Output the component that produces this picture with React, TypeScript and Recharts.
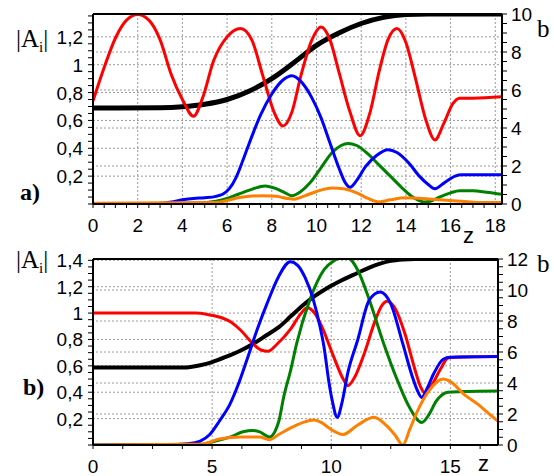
import React from 'react';
import { LineChart, Line, XAxis, YAxis, ReferenceLine } from 'recharts';

type P = [number, number];

// ---------- Panel a) data  (z, value) ----------
const redA: P[] = [[0,0.74],[0.5,0.98],[1,1.19],[1.5,1.32],[2,1.36],[2.5,1.32],[3,1.18],[3.5,0.93],[4,0.75],[4.5,0.63],[4.9,0.76],[5.4,1.03],[6,1.2],[6.6,1.26],[7.1,1.18],[7.6,0.92],[8.1,0.66],[8.5,0.56],[8.9,0.66],[9.3,0.92],[9.8,1.18],[10.2,1.27],[10.6,1.18],[11,0.95],[11.5,0.66],[11.95,0.49],[12.4,0.66],[12.8,0.95],[13.2,1.18],[13.6,1.26],[14,1.16],[14.4,0.92],[14.9,0.6],[15.3,0.46],[15.7,0.58],[16.1,0.72],[16.4,0.76],[17,0.76],[18.3,0.77]];
const blueA: P[] = [[0,0],[2.8,0.002],[3.5,0.015],[4,0.03],[4.5,0.04],[5,0.045],[5.5,0.055],[5.8,0.07],[6.1,0.11],[6.4,0.19],[6.7,0.31],[7,0.44],[7.5,0.64],[8,0.79],[8.5,0.89],[8.9,0.92],[9.3,0.88],[9.8,0.76],[10.2,0.62],[10.6,0.44],[11,0.26],[11.3,0.15],[11.5,0.12],[11.8,0.17],[12.2,0.27],[12.7,0.35],[13.2,0.39],[13.6,0.37],[14.1,0.3],[14.6,0.2],[15,0.14],[15.3,0.11],[15.7,0.15],[16.2,0.2],[16.5,0.21],[18.3,0.21]];
const greenA: P[] = [[0,0],[4.5,0.005],[5.5,0.02],[6,0.04],[6.5,0.07],[7,0.1],[7.7,0.13],[8.2,0.11],[8.6,0.08],[8.9,0.06],[9.3,0.09],[9.7,0.15],[10.2,0.26],[10.7,0.37],[11.1,0.42],[11.4,0.435],[11.8,0.42],[12.3,0.36],[12.8,0.28],[13.3,0.2],[13.8,0.12],[14.3,0.05],[14.8,0.015],[15.1,0.02],[15.5,0.05],[16,0.08],[16.4,0.095],[17,0.095],[17.6,0.085],[18.3,0.07]];
const orangeA: P[] = [[0,0.005],[5.5,0.01],[6,0.025],[6.5,0.045],[7,0.055],[7.6,0.06],[8.2,0.055],[8.7,0.04],[9,0.035],[9.5,0.06],[10,0.09],[10.7,0.115],[11.2,0.11],[11.8,0.08],[12.3,0.04],[12.8,0.015],[13.3,0.03],[14,0.045],[14.7,0.04],[15.5,0.03],[16.5,0.02],[17.2,0.01],[18.3,0.01]];
const blackA: P[] = [[0,5.05],[3,5.07],[4,5.12],[5,5.25],[6,5.5],[7,5.95],[8,6.6],[9,7.45],[10,8.35],[11,9.0],[12,9.5],[13,9.82],[14,9.97],[15,10],[18.3,10]];

// ---------- Panel b) data ----------
const redB: P[] = [[0,1],[4.3,1],[4.8,0.99],[5.3,0.97],[5.8,0.93],[6.2,0.87],[6.7,0.77],[7.05,0.72],[7.35,0.71],[7.7,0.76],[8.3,0.88],[8.7,0.99],[9.0,1.04],[9.3,1.0],[9.6,0.9],[10.1,0.67],[10.5,0.5],[10.7,0.45],[11.0,0.52],[11.4,0.7],[11.8,0.92],[12.1,1.05],[12.35,1.09],[12.7,1.03],[13.1,0.84],[13.5,0.58],[13.75,0.44],[13.9,0.4],[14.2,0.45],[14.6,0.58],[14.9,0.66],[15.2,0.665],[17,0.67]];
const blueB: P[] = [[0,0],[3,0.002],[4,0.01],[4.5,0.03],[4.9,0.08],[5.3,0.18],[5.75,0.31],[6.1,0.46],[6.45,0.64],[6.9,0.88],[7.3,1.07],[7.8,1.28],[8.28,1.39],[8.6,1.36],[8.9,1.27],[9.25,1.1],[9.5,0.92],[9.7,0.74],[9.9,0.48],[10.05,0.33],[10.25,0.21],[10.45,0.32],[10.7,0.55],[11.1,0.79],[11.6,1.1],[12.05,1.16],[12.5,1.07],[13.0,0.77],[13.4,0.52],[13.6,0.42],[13.8,0.36],[14.0,0.42],[14.3,0.54],[14.7,0.65],[15,0.665],[17,0.67]];
const greenB: P[] = [[0,0],[4.5,0.005],[4.9,0.02],[5.75,0.06],[6.3,0.1],[6.7,0.11],[7.0,0.1],[7.4,0.06],[7.8,0.18],[8.0,0.36],[8.3,0.57],[8.55,0.77],[9.1,1.1],[9.7,1.33],[10.15,1.4],[10.5,1.43],[10.85,1.4],[11.1,1.33],[11.6,1.1],[12.2,0.77],[12.8,0.48],[13.3,0.28],[13.8,0.17],[14.1,0.23],[14.4,0.33],[14.9,0.4],[15.5,0.405],[17,0.41]];
const orangeB: P[] = [[0,0],[4.5,0.005],[5.3,0.045],[6.2,0.06],[7.0,0.06],[7.4,0.04],[7.8,0.08],[8.3,0.13],[8.8,0.17],[9.25,0.19],[9.6,0.17],[9.9,0.13],[10.5,0.08],[11.1,0.15],[11.8,0.21],[12.3,0.15],[12.7,0.07],[13.0,0.0],[13.3,0.12],[13.6,0.25],[14.1,0.41],[14.7,0.5],[15.0,0.48],[15.6,0.38],[16.15,0.31],[16.6,0.24],[17,0.18]];
const blackB: P[] = [[0,5.0],[3.8,5.0],[4.5,5.15],[5,5.35],[5.6,5.7],[6.2,6.1],[6.8,6.6],[7.3,7.1],[7.8,7.6],[8.3,8.3],[8.8,9.0],[9.3,9.6],[9.8,10.1],[10.4,10.6],[11.1,11.1],[11.6,11.45],[12.05,11.7],[12.5,11.88],[13,11.97],[13.5,12],[17,12]];

// ---------- Axes / ticks ----------
const xDomainA: [number, number] = [0, 18.3];
const xMajorA = [0, 2, 4, 6, 8, 10, 12, 14, 16, 18];
const xLabelsA = ['0', '2', '4', '6', '8', '10', '12', '14', '16', '18'];
const leftDomainA: [number, number] = [0, 1.364];
const leftMajorA = [0.2, 0.4, 0.6, 0.8, 1, 1.2];
const leftLabelsA = ['0,2', '0,4', '0,6', '0,8', '1', '1,2'];
const rightDomainA: [number, number] = [0, 10];
const rightMajorA = [0, 2, 4, 6, 8, 10];
const rightLabelsA = ['0', '2', '4', '6', '8', '10'];

const xDomainB: [number, number] = [0, 17];
const xMajorB = [0, 5, 10, 15];
const xLabelsB = ['0', '5', '10', '15'];
const leftDomainB: [number, number] = [0, 1.41];
const leftMajorB = [0.2, 0.4, 0.6, 0.8, 1, 1.2, 1.4];
const leftLabelsB = ['0,2', '0,4', '0,6', '0,8', '1', '1,2', '1,4'];
const rightDomainB: [number, number] = [0, 12];
const rightMajorB = [0, 2, 4, 6, 8, 10, 12];
const rightLabelsB = ['0', '2', '4', '6', '8', '10', '12'];

const FONT = '"Liberation Sans", Arial, sans-serif';
const SERIF = '"Liberation Serif", "Times New Roman", serif';
const GRID = '#9a9a9a';

const toData = (pts: P[]) => pts.map(([z, v]) => ({ z, v }));

function minorTicks(domain: [number, number], step: number): number[] {
  const out: number[] = [];
  const n = Math.floor((domain[1] - domain[0]) / step + 1e-6);
  for (let i = 0; i <= n; i++) out.push(+(domain[0] + i * step).toFixed(4));
  return out;
}

const findIdx = (arr: number[], v: number) => arr.findIndex((m) => Math.abs(m - v) < 1e-6);

const xTick = (majors: number[], labels: string[]) => (p: any) => {
  const i = findIdx(majors, p.payload.value);
  return (
    <g>
      <line x1={p.x} x2={p.x} y1={p.y} y2={p.y + 4} stroke="#000" strokeWidth={1} />
      {i >= 0 && (
        <text x={p.x} y={p.y + 28} textAnchor="middle" fontSize={19} fontFamily={FONT} fill="#000">
          {labels[i]}
        </text>
      )}
    </g>
  );
};

const yTick = (majors: number[], labels: string[], side: 'left' | 'right') => (p: any) => {
  const i = findIdx(majors, p.payload.value);
  const d = side === 'left' ? -1 : 1;
  return (
    <g>
      <line x1={p.x} x2={p.x + d * 5} y1={p.y} y2={p.y} stroke="#000" strokeWidth={1} />
      {i >= 0 && (
        <text
          x={side === 'left' ? p.x - 10 : p.x + 9}
          y={p.y + 7}
          textAnchor={side === 'left' ? 'end' : 'start'}
          fontSize={19}
          fontFamily={FONT}
          fill="#000"
        >
          {labels[i]}
        </text>
      )}
    </g>
  );
};

interface PanelProps {
  top: number;
  height: number;
  marginTop: number;
  xAxisHeight: number;
  rightWidth: number;
  xDomain: [number, number];
  xMajor: number[];
  xLabels: string[];
  xMinorStep: number;
  xGrid: number[];
  leftDomain: [number, number];
  leftMajor: number[];
  leftLabels: string[];
  rightDomain: [number, number];
  rightMajor: number[];
  rightLabels: string[];
  red: P[];
  blue: P[];
  green: P[];
  orange: P[];
  black: P[];
  blackWidth: number;
}

function Panel(pp: PanelProps) {
  const common = { type: 'monotone' as const, dot: false, isAnimationActive: false, dataKey: 'v', activeDot: false };
  return (
    <div style={{ position: 'absolute', left: 0, top: pp.top }}>
      <LineChart width={554} height={pp.height} margin={{ top: pp.marginTop, right: 0, bottom: 0, left: 0 }}>
        <XAxis
          xAxisId="x"
          dataKey="z"
          type="number"
          domain={pp.xDomain}
          allowDataOverflow
          ticks={minorTicks(pp.xDomain, pp.xMinorStep)}
          interval={0}
          tickSize={0}
          tickMargin={0}
          tickLine={false}
          height={pp.xAxisHeight}
          axisLine={{ stroke: '#000', strokeWidth: 2 }}
          tick={xTick(pp.xMajor, pp.xLabels)}
        />
        <YAxis
          yAxisId="left"
          type="number"
          domain={pp.leftDomain}
          allowDataOverflow
          ticks={minorTicks(pp.leftDomain, 0.05)}
          interval={0}
          width={93}
          tickSize={0}
          tickMargin={0}
          tickLine={false}
          axisLine={{ stroke: '#000', strokeWidth: 2 }}
          tick={yTick(pp.leftMajor, pp.leftLabels, 'left')}
        />
        <YAxis
          yAxisId="right"
          orientation="right"
          type="number"
          domain={pp.rightDomain}
          allowDataOverflow
          ticks={minorTicks(pp.rightDomain, 0.5)}
          interval={0}
          width={pp.rightWidth}
          tickSize={0}
          tickMargin={0}
          tickLine={false}
          axisLine={{ stroke: '#000', strokeWidth: 2 }}
          tick={yTick(pp.rightMajor, pp.rightLabels, 'right')}
        />
        {pp.xGrid.map((v) => (
          <ReferenceLine key={'gx' + v} xAxisId="x" yAxisId="left" x={v} stroke={GRID} strokeDasharray="2 2" strokeWidth={1} />
        ))}
        {pp.leftMajor.map((v) => (
          <ReferenceLine key={'gl' + v} xAxisId="x" yAxisId="left" y={v} stroke={GRID} strokeDasharray="2 2" strokeWidth={1} />
        ))}
        {pp.rightMajor.filter((v) => v > pp.rightDomain[0] && v < pp.rightDomain[1]).map((v) => (
          <ReferenceLine key={'gr' + v} xAxisId="x" yAxisId="right" y={v} stroke={GRID} strokeDasharray="2 2" strokeWidth={1} />
        ))}
        <Line {...common} xAxisId="x" yAxisId="right" data={toData(pp.black)} stroke="#000" strokeWidth={pp.blackWidth} />
        <Line {...common} xAxisId="x" yAxisId="left" data={toData(pp.red)} stroke="#ff0000" strokeWidth={3} />
        <Line {...common} xAxisId="x" yAxisId="left" data={toData(pp.green)} stroke="#008000" strokeWidth={3} />
        <Line {...common} xAxisId="x" yAxisId="left" data={toData(pp.blue)} stroke="#0000ff" strokeWidth={3} />
        <Line {...common} xAxisId="x" yAxisId="left" data={toData(pp.orange)} stroke="#ff8000" strokeWidth={3} />
        <ReferenceLine xAxisId="x" yAxisId="right" y={pp.rightDomain[1]} stroke="#000" strokeWidth={2} />
      </LineChart>
    </div>
  );
}

export default function App() {
  return (
    <div style={{ position: 'absolute', left: 0, top: 0, width: 554, height: 476, background: '#fff', overflow: 'hidden' }}>
      <Panel
        top={0}
        height={240}
        marginTop={14}
        xAxisHeight={36}
        rightWidth={52}
        xDomain={xDomainA}
        xMajor={xMajorA}
        xLabels={xLabelsA}
        xMinorStep={0.5}
        xGrid={xMajorA.filter((v) => v > 0)}
        leftDomain={leftDomainA}
        leftMajor={leftMajorA}
        leftLabels={leftLabelsA}
        rightDomain={rightDomainA}
        rightMajor={rightMajorA}
        rightLabels={rightLabelsA}
        red={redA}
        blue={blueA}
        green={greenA}
        orange={orangeA}
        black={blackA}
        blackWidth={5}
      />
      <Panel
        top={240}
        height={236}
        marginTop={19}
        xAxisHeight={31}
        rightWidth={56}
        xDomain={xDomainB}
        xMajor={xMajorB}
        xLabels={xLabelsB}
        xMinorStep={1.25}
        xGrid={xMajorB.filter((v) => v > 0)}
        leftDomain={leftDomainB}
        leftMajor={leftMajorB}
        leftLabels={leftLabelsB}
        rightDomain={rightDomainB}
        rightMajor={rightMajorB}
        rightLabels={rightLabelsB}
        red={redB}
        blue={blueB}
        green={greenB}
        orange={orangeB}
        black={blackB}
        blackWidth={4}
      />
      <svg width={554} height={476} style={{ position: 'absolute', left: 0, top: 0, pointerEvents: 'none' }}>
        <text x={16} y={47} fontFamily={SERIF} fontSize={25} fill="#000">
          |A<tspan fontSize={15} dy={5}>i</tspan><tspan dy={-5}>|</tspan>
        </text>
        <text x={16} y={268} fontFamily={SERIF} fontSize={25} fill="#000">
          |A<tspan fontSize={15} dy={5}>i</tspan><tspan dy={-5}>|</tspan>
        </text>
        <text x={20} y={200} fontFamily={SERIF} fontSize={24} fontWeight="bold" fill="#000">a)</text>
        <text x={23} y={395} fontFamily={SERIF} fontSize={24} fontWeight="bold" fill="#000">b)</text>
        <text x={537} y={37} fontFamily={SERIF} fontSize={25} fill="#000">b</text>
        <text x={537} y={272} fontFamily={SERIF} fontSize={25} fill="#000">b</text>
        <text x={463} y={243} fontFamily={FONT} fontSize={22} fill="#000">z</text>
        <text x={478} y={471} fontFamily={FONT} fontSize={22} fill="#000">z</text>
      </svg>
    </div>
  );
}
